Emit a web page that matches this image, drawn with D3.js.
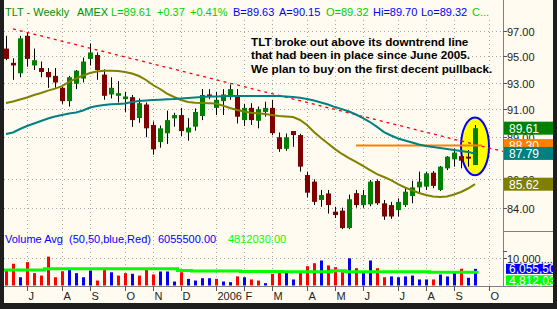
<!DOCTYPE html>
<html><head><meta charset="utf-8">
<script src="https://cdn.jsdelivr.net/npm/d3@7"></script>
<style>
html,body{margin:0;padding:0;background:#fffbf0;overflow:hidden;}
svg{display:block;}
text{font-family:"Liberation Sans",Arial,sans-serif;}
</style></head><body>
<svg id="c" width="557" height="309"></svg>
<script>
// ---------------- DATA ----------------
const firstWeek = "2005-06-10"; // week ending dates, weekly bars
const open  = [95.6,94.5,93.7,96.6,94.3,94.1,93.8,93.5,92.6,91.6, 92.9,93.3,94.8,95.1,93.6,92.1,92.0,91.75,91.9,90.35, 91.35,89.84,88.6,89.24,90.33,90.57,89.3,89.72,90.5,92.1, 91.1,91.6,91.9,91.94,90.2,91.1,90.15,90.8,91.1,88.95, 88.12,89.4,89.11,86.26,85.8,84.53,84.98,83.73,83.8,82.62, 85.0,84.18,84.23,85.84,84.3,84.18,83.84,84.18,84.8,85.4, 85.45,86.43,85.22,86.73,87.37,87.6,87.56,86.97];
const high  = [96.6,94.85,96.6,96.9,95.6,94.6,94.1,94.1,92.7,93.5, 93.95,94.9,96.0,95.3,94.0,93.4,93.1,92.3,92.06,91.8, 91.5,90.1,89.8,90.9,90.74,91.1,90.34,91.06,92.5,92.5, 92.3,92.5,92.85,92.5,91.4,91.45,91.2,91.56,91.7,89.3, 89.22,89.4,89.2,86.5,85.96,85.22,85.22,84.06,84.0,84.9, 85.22,85.22,85.91,85.96,84.53,84.4,84.64,85.34,85.86,86.5, 86.5,86.55,86.9,87.6,88.15,87.98,88.03,89.84];
const low   = [94.7,93.2,93.4,94.2,93.95,93.4,92.6,92.6,91.4,91.2, 92.5,93.0,94.3,93.2,91.7,91.8,91.5,90.8,89.7,90.0, 88.95,87.7,88.2,88.47,89.72,89.04,88.7,89.43,90.2,91.75, 90.57,90.57,91.7,89.95,89.77,89.84,89.6,90.45,89.1,87.9, 87.98,88.27,86.5,84.7,84.18,84.06,83.6,83.3,82.55,82.55, 84.0,84.0,84.1,84.18,83.17,83.24,83.4,84.06,84.3,85.0, 85.22,85.34,85.15,86.61,86.85,86.73,86.85,86.97];
const close = [94.8,94.3,96.4,94.8,94.7,93.8,93.4,93.0,91.6,93.4, 93.9,94.6,95.3,93.95,92.0,92.6,92.2,91.95,90.2,91.45, 89.6,88.08,89.6,90.2,90.57,89.4,89.65,90.8,92.06,91.96, 91.7,92.1,92.5,90.45,91.1,90.2,91.0,91.1,89.25,88.1, 88.95,89.11,86.85,85.03,84.4,84.87,84.18,83.5,82.62,84.58, 84.18,84.87,85.8,84.3,83.4,83.4,84.4,85.1,85.4,85.8, 86.38,85.5,86.85,87.56,87.85,87.27,87.42,89.61];
const maShort = [91.46,91.58,91.72,91.87,92.06,92.21,92.39,92.54,92.73,93.04, 93.30,93.53,93.72,93.84,93.90,93.90,93.87,93.80,93.68,93.49, 93.19,92.81,92.51,92.17,91.91,91.69,91.54,91.49,91.46,91.44, 91.42,91.27,91.09,90.94,90.83,90.74,90.70,90.65,90.57,90.50, 90.46,90.43,90.21,89.84,89.33,88.89,88.50,88.10,87.75,87.46, 87.18,86.90,86.61,86.33,86.12,85.91,85.63,85.39,85.19,85.01, 84.87,84.77,84.74,84.77,84.91,85.08,85.32,85.62];
const maLong = [89.19,89.30,89.55,89.77,89.95,90.13,90.32,90.46,90.57,90.69, 90.76,90.91,91.13,91.24,91.31,91.37,91.39,91.42,91.54,91.61, 91.65,91.69,91.71,91.74,91.76,91.80,91.84,91.87,91.91,91.94, 91.95,91.97,91.99,91.99,91.99,91.99,91.99,91.99,91.99,91.98, 91.95,91.91,91.85,91.76,91.65,91.50,91.35,91.16,91.01,90.83, 90.61,90.35,90.06,89.70,89.33,89.08,88.86,88.72,88.57,88.43, 88.32,88.25,88.17,88.10,88.03,87.96,87.89,87.79];
const volume = [5.45,7.9,3.0,8.5,4.5,3.6,10.5,3.0,5.2,5.8, 4.5,3.0,5.45,1.8,5.8,4.8,3.6,4.5,4.25,3.6, 6.1,4.0,5.1,5.1,1.45,4.8,2.4,1.8,2.65,2.65, 2.4,1.45,1.2,3.3,3.0,2.2,1.8,0.85,4.25,4.5, 4.8,2.2,4.5,7.0,8.1,9.1,7.3,6.65,4.8,9.9, 6.3,4.5,9.1,6.3,3.0,3.3,3.0,3.3,3.6,2.2, 2.2,2.2,4.0,3.3,4.6,6.1,2.8,6.0555]; // millions
const volDir = ["d","d","u","d","d","d","d","d","d","u", "u","u","u","d","d","u","d","d","u","d", "d","d","u","u","u","d","u","u","u","u", "d","u","u","d","u","d","d","u","d","d", "u","u","d","d","d","u","d","d","d","u", "d","u","u","d","d","u","u","u","u","u", "u","d","u","u","u","d","u","u"];
const volAvg = [5.6,5.6,5.6,5.6,5.6,5.6,6.1,6.1,6.1,6.1, 6.1,6.1,6.1,6.1,6.1,6.1,6.1,6.1,6.1,6.1, 6.1,6.1,6.1,6.1,6.1,5.5,5.5,5.3,5.3,5.3, 5.3,5.3,5.3,5.3,5.1,5.1,5.1,5.1,5.1,5.1, 5.0,5.0,5.0,5.0,5.0,5.0,5.0,5.4,5.4,5.0, 5.0,5.0,5.0,5.0,5.0,5.0,5.0,5.0,5.0,5.0, 5.0,4.81,4.81,4.81,4.81,4.81,4.81,4.81];
const priceTicks = [97,95,93,91,89,86,84];
const volTicks = [10];
const monthLetters = ["J","F","M","A","M","J","J","A","S","O","N","D"];
const trendline = [{bar:1, price:97.14},{bar:71, price:87.93}];
const resistance = [{bar:50, price:88.35},{bar:68, price:88.35}];
const highlight = {bar:67, top:90.4, bottom:86.25, halfBars:2};
const header = [
  {t:"TLT - Weekly", c:"#009000"},{t:"AMEX", c:"#009000"},{t:"L=89.61", c:"#00d000"},
  {t:"+0.37", c:"#00d000"},{t:"+0.41%", c:"#00d000"},{t:"B=89.63", c:"#0000ff"},
  {t:"A=90.15", c:"#0000ff"},{t:"O=89.32", c:"#00d000"},{t:"Hi=89.70", c:"#0000ff"},
  {t:"Lo=89.32", c:"#0000ff"},{t:"C...", c:"#00d000"}];
const note = ["TLT broke out above its downtrend line","that had been in place since June 2005.","We plan to buy on the first decent pullback."];
const volHeader = [{t:"Volume Avg", c:"#0000ff"},{t:"(50,50,blue,Red)", c:"#0000ff"},{t:"6055500.00", c:"#0000ff"},{t:"4812030.00", c:"#00ff00"}];
const lastTags = [
  {v:89.61, label:"89.61", c:"#008000"},
  {v:88.35, label:"88.30", c:"#ff8000"},
  {v:87.79, label:"87.79", c:"#008080"},
  {v:85.62, label:"85.62", c:"#808000"}];
const volTags = [{v:4.81203, label:"4,812,030", c:"#00ff00"},{v:6.0555, label:"6,055,500", c:"#0000ff"}];

// ---------------- LAYOUT ----------------
const W=557,H=309, L=4, R=503, RB=553, BB=303, axisY=286, panelSplit=231;
const headerX = [5,77,111,157,190,233,279,326,373,421,472];
const volHeaderX = [5,69,158,228];
const svg = d3.select("#c");
const x = d3.scaleLinear().domain([0,69]).range([6,489]);
const y = d3.scaleLog().domain([84,97]).range([207.7,30.7]);
const yv = d3.scaleLinear().domain([0,10]).range([285.5,258]);

const start = d3.timeParse("%Y-%m-%d")(firstWeek);
const dates = d3.range(70).map(i => d3.timeDay.offset(start, 7*i));
const monthTicks = [];
dates.forEach((d,i) => { if (i>0 && d.getMonth() !== dates[i-1].getMonth()) {
  monthTicks.push({i, label: d.getMonth()===0 ? String(d.getFullYear()) : monthLetters[d.getMonth()]}); }});

svg.append("rect").attr("width",W).attr("height",H).attr("fill","#fffbf0");

const defs = svg.append("defs");
defs.append("clipPath").attr("id","pc").append("rect").attr("x",L).attr("y",18).attr("width",R-L).attr("height",panelSplit-18);

// grid
const grid = svg.append("g").attr("stroke","#a8a8a8").attr("stroke-dasharray","1,3").attr("stroke-width",1);
monthTicks.forEach(m => grid.append("line").attr("x1",Math.round(x(m.i))+0.5).attr("x2",Math.round(x(m.i))+0.5).attr("y1",20).attr("y2",axisY));
priceTicks.forEach(p => grid.append("line").attr("x1",L).attr("x2",R).attr("y1",Math.round(y(p))+0.5).attr("y2",Math.round(y(p))+0.5));
volTicks.forEach(v => grid.append("line").attr("x1",L).attr("x2",R).attr("y1",Math.round(yv(v))+0.5).attr("y2",Math.round(yv(v))+0.5));

const plot = svg.append("g").attr("clip-path","url(#pc)");
// highlight ellipse
const ecy = (y(highlight.top)+y(highlight.bottom))/2;
plot.append("ellipse").attr("cx",x(highlight.bar)).attr("cy",ecy)
  .attr("rx",x(highlight.halfBars)-x(0)).attr("ry",(y(highlight.bottom)-y(highlight.top))/2)
  .attr("fill","#ffff00").attr("stroke","#0000ff").attr("stroke-width",2);

// candles
const idx = d3.range(close.length);
const cw = 5;
plot.append("g").selectAll("line").data(idx).join("line")
  .attr("x1",i=>Math.round(x(i))+0.5).attr("x2",i=>Math.round(x(i))+0.5)
  .attr("y1",i=>y(high[i])).attr("y2",i=>y(low[i])).attr("stroke","#000").attr("stroke-width",1);
plot.append("g").selectAll("rect").data(idx).join("rect")
  .attr("x",i=>Math.round(x(i))-2).attr("width",cw)
  .attr("y",i=>y(Math.max(open[i],close[i])))
  .attr("height",i=>Math.max(1.5, y(Math.min(open[i],close[i]))-y(Math.max(open[i],close[i]))))
  .attr("fill",i=> close[i]>=open[i] ? "#008000" : "#800000");

// lines
const lineBar = d3.line().x(d=>x(d.bar)).y(d=>y(d.price));
plot.append("path").attr("d",lineBar(trendline)).attr("fill","none").attr("stroke","#ff0000").attr("stroke-width",1.3).attr("stroke-dasharray","3,4");
plot.append("path").attr("d",lineBar(resistance)).attr("fill","none").attr("stroke","#ff8000").attr("stroke-width",2);
const maLine = d3.line().x((d,i)=>x(i)).y(d=>y(d));
plot.append("path").attr("d",maLine(maShort)).attr("fill","none").attr("stroke","#808000").attr("stroke-width",2);
plot.append("path").attr("d",maLine(maLong)).attr("fill","none").attr("stroke","#008080").attr("stroke-width",2);

// annotation
const nt = svg.append("g").attr("font-weight","bold").attr("font-size","11.7px").attr("fill","#000");
note.forEach((s,k)=> nt.append("text").attr("x",251).attr("y",45.5+k*13.5).text(s));

// header
const hg = svg.append("g").attr("font-size","11px");
header.forEach((h,k)=> hg.append("text").attr("x",headerX[k]).attr("y",16).attr("fill",h.c).text(h.t));

// volume
svg.append("g").selectAll("rect").data(idx).join("rect")
  .attr("x",i=>Math.round(x(i))-1).attr("width",3)
  .attr("y",i=>yv(volume[i])).attr("height",i=>yv(0)-yv(volume[i]))
  .attr("fill",i=>volDir[i]==="u" ? "#0000ff" : "#ff0000");
const avgLine = d3.line().curve(d3.curveStepAfter).x(d=>d.x).y(d=>yv(d.v));
const avgPts = volAvg.map((v,i)=>({x:x(i)-3.5, v}));
avgPts.push({x:x(volAvg.length-1)+3.5, v:volAvg[volAvg.length-1]});
svg.append("path").attr("d",avgLine(avgPts)).attr("fill","none").attr("stroke","#00ff00").attr("stroke-width",3);
const vg = svg.append("g").attr("font-size","11px");
volHeader.forEach((h,k)=> vg.append("text").attr("x",volHeaderX[k]).attr("y",243).attr("fill",h.c).text(h.t));

// axes
const ax = svg.append("g").attr("stroke","#808080").attr("stroke-width",1);
ax.append("line").attr("x1",R+0.5).attr("x2",R+0.5).attr("y1",0).attr("y2",axisY);
ax.append("line").attr("x1",L).attr("x2",RB).attr("y1",axisY+0.5).attr("y2",axisY+0.5);
ax.append("line").attr("x1",R).attr("x2",RB).attr("y1",panelSplit+0.5).attr("y2",panelSplit+0.5);
const tl = svg.append("g").attr("font-size","11px").attr("fill","#222");
priceTicks.forEach(p => {
  const yy = Math.round(y(p))+0.5;
  svg.append("line").attr("x1",R).attr("x2",R+4).attr("y1",yy).attr("y2",yy).attr("stroke","#555");
  tl.append("text").attr("x",R+4).attr("y",yy+4).text(p.toFixed(2));
});
volTicks.forEach(v => {
  const yy = Math.round(yv(v))+0.5;
  svg.append("line").attr("x1",R).attr("x2",R+4).attr("y1",yy).attr("y2",yy).attr("stroke","#555");
  svg.append("line").attr("x1",R).attr("x2",R+4).attr("y1",yy-7).attr("y2",yy-7).attr("stroke","#555");
  tl.append("text").attr("x",R+4).attr("y",yy+4).text(d3.format(",")(v*1e6).slice(0,7)+"...");
});
const mg = svg.append("g").attr("font-size","11px").attr("fill","#222");
monthTicks.forEach(m => {
  const xx = Math.round(x(m.i))+0.5;
  svg.append("line").attr("x1",xx).attr("x2",xx).attr("y1",axisY).attr("y2",axisY+5).attr("stroke","#555");
  mg.append("text").attr("x",xx+1).attr("y",300).text(m.label);
});

// value tags
const tagG = svg.append("g").attr("font-size","12px");
lastTags.forEach(t => {
  const yy = y(t.v);
  tagG.append("rect").attr("x",R+1).attr("y",yy-6.5).attr("width",RB-R).attr("height",13).attr("fill",t.c);
  tagG.append("text").attr("x",R+6).attr("y",yy+4.5).attr("fill","#fff").text(t.label);
});
volTags.forEach((t,k) => {
  const yy = yv(t.v) + (k===0 ? 8 : 0);
  tagG.append("rect").attr("x",R+3).attr("y",yy-5).attr("width",RB-R).attr("height",10).attr("fill",t.c);
  tagG.append("text").attr("x",R+6).attr("y",yy+4.5).attr("fill","#fff").text(t.label);
});

// borders
const bd = svg.append("g").attr("fill","#1e1e1e");
bd.append("rect").attr("x",0).attr("y",0).attr("width",L).attr("height",H);
bd.append("rect").attr("x",RB).attr("y",0).attr("width",W-RB).attr("height",H);
bd.append("rect").attr("x",0).attr("y",BB).attr("width",W).attr("height",H-BB);
</script>
</body></html>
